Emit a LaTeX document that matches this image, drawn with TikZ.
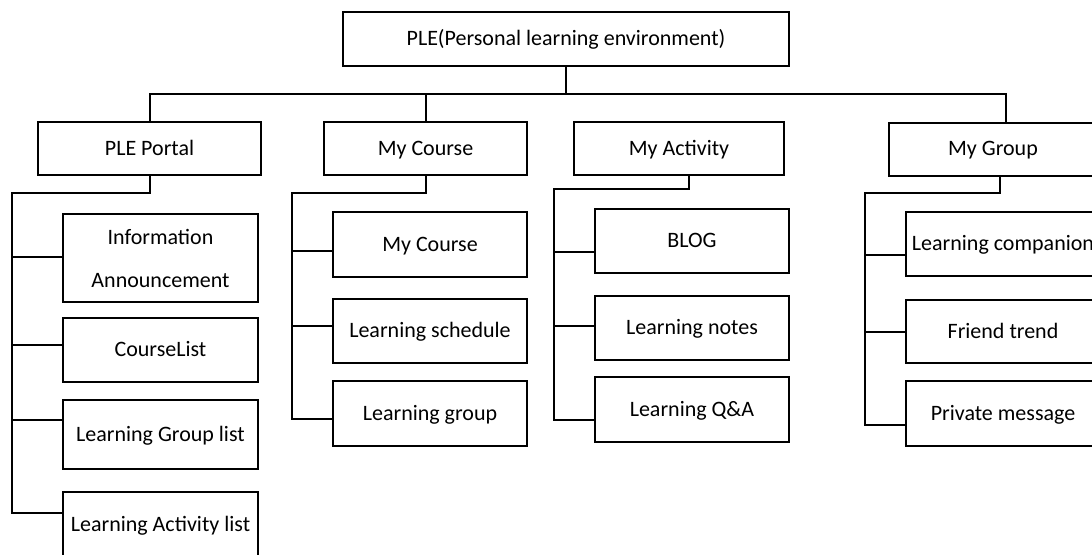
\documentclass[tikz,border=0pt]{standalone}
\usepackage{fontspec}
\setmainfont{Carlito}
\usetikzlibrary{positioning,calc}

\begin{document}
\begin{tikzpicture}[
    x=0.5pt, y=-0.5pt,
    box/.style={rectangle, draw, line width=1pt, inner sep=0pt, align=center,
                text height=1.6ex, text depth=0.2ex, font=\fontsize{11}{13}\selectfont},
    rootbox/.style={box, minimum width=223pt, minimum height=27pt},
    menubox/.style={box, minimum height=26.5pt},
    itembox/.style={box, minimum width=97pt, minimum height=32.5pt},
    link/.style={line width=1pt}
]
    \useasboundingbox (0,0) rectangle (1092,554);
    \clip (0,0) rectangle (1092,554);

    % top level
    \node[rootbox] (ple) at (566,39) {PLE(Personal learning environment)};

    % menus
    \node[menubox, minimum width=111.5pt] (portal) at (149.5,148.5) {PLE Portal};
    \node[menubox, minimum width=101.5pt] (course) at (425.5,148.5) {My Course};
    \node[menubox, minimum width=105pt] (activity) at (679,148.5) {My Activity};
    \node[menubox, minimum width=104pt] (group) at (993,149) {My Group};

    % PLE Portal items
    \node[itembox, minimum width=97.5pt, minimum height=44pt, text height=, text depth=] (info) at (160.5,258) {Information\\[8.5pt]Announcement};
    \node[itembox, minimum width=97.5pt, minimum height=32pt] (clist) at (160.5,350) {CourseList};
    \node[itembox, minimum width=97.5pt, minimum height=34.5pt] (lgl) at (160.5,434.5) {Learning Group list};
    \node[itembox, minimum width=97.5pt, minimum height=33pt] (lal) at (160.5,525) {Learning Activity list};

    % My Course items
    \node[itembox] (mycrs) at (430,244.5) {My Course};
    \node[itembox, minimum height=32pt] (sched) at (430,331) {Learning schedule};
    \node[itembox] (lgrp) at (430,413.5) {Learning group};

    % My Activity items
    \node[itembox, minimum height=32pt] (blog) at (692,241) {BLOG};
    \node[itembox, minimum height=32pt] (notes) at (692,328) {Learning notes};
    \node[itembox] (qa) at (692,409.5) {Learning Q\&A};

    % My Group items
    \node[itembox, minimum height=32pt] (comp) at (1003,244) {Learning companion};
    \node[itembox, minimum height=31.5pt] (friend) at (1003,331.5) {Friend trend};
    \node[itembox] (pmsg) at (1003,413.5) {Private message};

    % bus under the root (My Activity has no drop)
    \coordinate (bus) at (0,94);
    \draw[link] (ple.south) -- (ple.south |- bus) -| (portal.north);
    \draw[link] (ple.south |- bus) -| (course.north);
    \draw[link] (ple.south |- bus) -| ([xshift=6.5pt]group.north);

    % rails
    \coordinate (prail) at (12,193);
    \coordinate (crail) at (292,193);
    \coordinate (arail) at (554,189);
    \coordinate (grail) at (865,193);

    \foreach \n/\d in {info/-1, clist/-5, lgl/-15, lal/-12, mycrs/6.5, sched/-5, lgrp/5.5,
                       blog/11, notes/-2, qa/10.5, comp/11, friend/0, pmsg/11.5}
        \path ($(\n.west)+(0,\d)$) coordinate (\n-b);

    \draw[link] (portal.south) |- (prail) |- (lal-b);
    \foreach \n in {info,clist,lgl} \draw[link] (prail |- \n-b) -- (\n-b);

    \draw[link] (course.south) |- (crail) |- (lgrp-b);
    \foreach \n in {mycrs,sched} \draw[link] (crail |- \n-b) -- (\n-b);

    \draw[link] ([xshift=5pt]activity.south) |- (arail) |- (qa-b);
    \foreach \n in {blog,notes} \draw[link] (arail |- \n-b) -- (\n-b);

    \draw[link] ([xshift=3.5pt]group.south) |- (grail) |- (pmsg-b);
    \foreach \n in {comp,friend} \draw[link] (grail |- \n-b) -- (\n-b);
\end{tikzpicture}
\end{document}
